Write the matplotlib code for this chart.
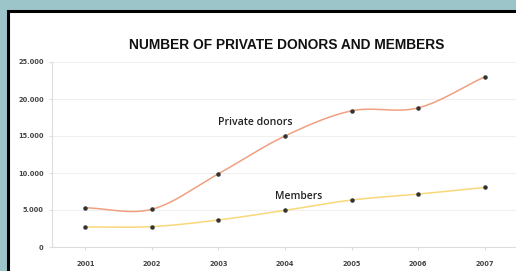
import numpy as np
import matplotlib.pyplot as plt
from matplotlib.patches import Rectangle
from matplotlib.ticker import FuncFormatter

# 数据
years = [2001, 2002, 2003, 2004, 2005, 2006, 2007]
private_donors = [5300, 5100, 9900, 15000, 18400, 18800, 23000]
members = [2700, 2750, 3650, 4950, 6350, 7150, 8050]
y_ticks = [0, 5000, 10000, 15000, 20000, 25000]


def smooth(x, y, n=30):
    # Catmull-Rom 平滑曲线，只用于画线
    x = np.asarray(x, float)
    y = np.asarray(y, float)
    px = np.concatenate([[2 * x[0] - x[1]], x, [2 * x[-1] - x[-2]]])
    py = np.concatenate([[2 * y[0] - y[1]], y, [2 * y[-1] - y[-2]]])
    xs, ys = [], []
    t = np.linspace(0, 1, n)
    for i in range(1, len(px) - 2):
        for p, out in ((px, xs), (py, ys)):
            p0, p1, p2, p3 = p[i - 1], p[i], p[i + 1], p[i + 2]
            out.append(0.5 * (2 * p1 + (-p0 + p2) * t
                              + (2 * p0 - 5 * p1 + 4 * p2 - p3) * t ** 2
                              + (-p0 + 3 * p1 - 3 * p2 + p3) * t ** 3))
    return np.concatenate(xs), np.concatenate(ys)


fig = plt.figure(figsize=(5.16, 2.71), dpi=100, facecolor='#9cc5c9')
fig.patches.append(Rectangle((7.5 / 516, -0.05), 1.0, 1 - 11 / 271 + 0.05,
                             transform=fig.transFigure, facecolor='white',
                             edgecolor='black', linewidth=2.2, zorder=0))

ax = fig.add_axes([52 / 516, 1 - 247 / 271, 466 / 516, 185 / 271])
ax.set_zorder(2)
ax.set_facecolor('none')

sx, sy = smooth(years, private_donors)
ax.plot(sx, sy, color='#f0a080', lw=1.1, zorder=2)
sx, sy = smooth(years, members)
ax.plot(sx, sy, color='#f8d878', lw=1.1, zorder=2)
ax.scatter(years, private_donors, s=5, color='#333333', zorder=3)
ax.scatter(years, members, s=5, color='#333333', zorder=3)

ax.set_xlim(2000.5, 2007.5)
ax.set_ylim(0, 25000)
ax.set_xticks(years)
ax.set_yticks(y_ticks)
ax.yaxis.set_major_formatter(FuncFormatter(lambda v, p: f'{int(v):,}'.replace(',', '.')))
ax.grid(axis='y', color='#f0f0f0', lw=0.8)
ax.set_axisbelow(True)
for s in ['top', 'right']:
    ax.spines[s].set_visible(False)
for s in ['left', 'bottom']:
    ax.spines[s].set_color('#dddddd')
    ax.spines[s].set_linewidth(0.8)
ax.tick_params(axis='both', length=2, color='#dddddd', labelsize=4.8,
               labelcolor='#444444', pad=4)
for lab in ax.get_xticklabels() + ax.get_yticklabels():
    lab.set_fontweight('bold')
ax.tick_params(axis='x', pad=8)

ax.text(2003.56, 16760, 'Private donors', fontsize=7.6, ha='center', va='center',
        color='#222222', fontweight='semibold', family='Open Sans')
ax.text(2004.2, 6760, 'Members', fontsize=7.4, ha='center', va='center',
        color='#222222', fontweight='semibold', family='Open Sans')

fig.text(287 / 516, 1 - 45 / 271, 'NUMBER OF PRIVATE DONORS AND MEMBERS',
         fontsize=9.9, fontweight='bold', ha='center', va='center',
         color='#111111', family='Liberation Sans')

fig.savefig('out.png', dpi=100, facecolor=fig.get_facecolor())
